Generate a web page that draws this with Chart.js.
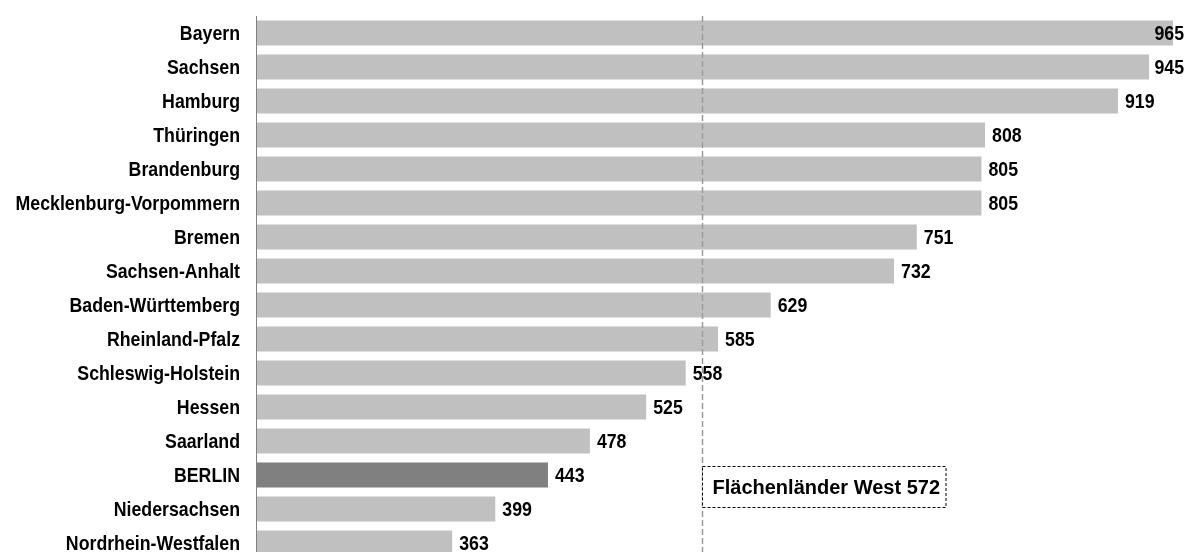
<!DOCTYPE html>
<html lang="de">
<head>
<meta charset="utf-8">
<title>Bundesländer</title>
<script src="https://cdn.jsdelivr.net/npm/chart.js@4/dist/chart.umd.min.js"></script>
<style>
  html, body { margin: 0; padding: 0; background: #ffffff; overflow: hidden; }
  canvas { display: block; }
</style>
</head>
<body>
<canvas id="chart" width="1188" height="560"></canvas>
<script>
// Länder, sorted by value
const laender = [
  "Bayern", "Sachsen", "Hamburg", "Thüringen", "Brandenburg",
  "Mecklenburg-Vorpommern", "Bremen", "Sachsen-Anhalt", "Baden-Württemberg",
  "Rheinland-Pfalz", "Schleswig-Holstein", "Hessen", "Saarland", "BERLIN",
  "Niedersachsen", "Nordrhein-Westfalen"
];
const werte = [965, 945, 919, 808, 805, 805, 751, 732, 629, 585, 558, 525, 478, 443, 399, 363];
const hervorgehoben = "BERLIN";
const vergleichName = "Flächenländer West";
const vergleichWert = 572;

const sansFont = '"Liberation Sans", Arial, sans-serif';
// narrow look: bold sans squeezed horizontally
const narrowScale = 0.845;
const narrowSize = 21;

const barColors = laender.map(l => l === hervorgehoben ? "#808080" : "#c0c0c0");

function narrowText(ctx, txt, x, y, align) {
  ctx.save();
  ctx.translate(x, y);
  ctx.scale(narrowScale, 1);
  ctx.textAlign = align;
  ctx.fillText(txt, 0, 0);
  ctx.restore();
}

// category names left of the axis, plus the axis line on top of the bars
const categoryAxis = {
  id: "categoryAxis",
  afterDraw(chart) {
    const ctx = chart.ctx;
    const yScale = chart.scales.y;
    const area = chart.chartArea;
    ctx.save();
    ctx.strokeStyle = "#808080";
    ctx.lineWidth = 1;
    ctx.beginPath();
    ctx.moveTo(area.left - 0.5, area.top);
    ctx.lineTo(area.left - 0.5, chart.height);
    ctx.stroke();

    ctx.font = "bold " + narrowSize + "px " + sansFont;
    ctx.fillStyle = "#000000";
    ctx.textBaseline = "middle";
    laender.forEach((name, i) => {
      narrowText(ctx, name, yScale.right - 17, yScale.getPixelForTick(i) + 1, "right");
    });
    ctx.restore();
  }
};

// value labels after each bar, kept inside the canvas
const valueLabels = {
  id: "valueLabels",
  afterDatasetsDraw(chart) {
    const ctx = chart.ctx;
    const meta = chart.getDatasetMeta(0);
    ctx.save();
    ctx.font = "bold " + narrowSize + "px " + sansFont;
    ctx.fillStyle = "#000000";
    ctx.textBaseline = "middle";
    meta.data.forEach((bar, i) => {
      const txt = String(werte[i]);
      const w = ctx.measureText(txt).width * narrowScale;
      let x = bar.x + 7;
      if (x + w > chart.width - 4) x = chart.width - 4 - w;
      narrowText(ctx, txt, x, bar.y + 1, "left");
    });
    ctx.restore();
  }
};

// dashed reference line with its labelled box
const referenceLine = {
  id: "referenceLine",
  afterDatasetsDraw(chart) {
    const ctx = chart.ctx;
    const area = chart.chartArea;
    const x = Math.round(chart.scales.x.getPixelForValue(vergleichWert)) + 0.5;
    ctx.save();
    ctx.strokeStyle = "#9a9a9a";
    ctx.lineWidth = 1.5;
    ctx.setLineDash([6, 3]);
    ctx.beginPath();
    ctx.moveTo(x, area.top);
    ctx.lineTo(x, chart.height);
    ctx.stroke();

    const text = vergleichName + " " + vergleichWert;
    ctx.font = "bold 20px " + sansFont;
    const tw = ctx.measureText(text).width;
    const bx = x, by = 466.5, bh = 41, bw = tw + 16;
    ctx.fillStyle = "#ffffff";
    ctx.fillRect(bx, by, bw, bh);
    ctx.strokeStyle = "#000000";
    ctx.lineWidth = 1;
    ctx.setLineDash([3, 2]);
    ctx.strokeRect(bx, by, bw, bh);
    ctx.fillStyle = "#000000";
    ctx.textBaseline = "middle";
    ctx.textAlign = "left";
    ctx.fillText(text, bx + 10, by + bh / 2 + 1);
    ctx.restore();
  }
};

new Chart(document.getElementById("chart"), {
  type: "bar",
  data: {
    labels: laender,
    datasets: [{
      data: werte,
      backgroundColor: barColors,
      borderWidth: 0,
      barPercentage: 0.73,
      categoryPercentage: 1.0
    }]
  },
  options: {
    indexAxis: "y",
    responsive: false,
    devicePixelRatio: 1,
    animation: false,
    layout: { padding: { top: 16, right: 3, left: 0, bottom: 0 } },
    plugins: {
      legend: { display: false },
      tooltip: { enabled: false }
    },
    scales: {
      x: {
        display: false,
        min: 200,
        max: 975
      },
      y: {
        grid: { display: false, drawTicks: false },
        border: { display: false },
        ticks: { display: false },
        afterFit(axis) {
          axis.width = 257;
          axis.paddingTop = 0;
          axis.paddingBottom = 0;
        }
      }
    }
  },
  plugins: [valueLabels, referenceLine, categoryAxis]
});
</script>
</body>
</html>
